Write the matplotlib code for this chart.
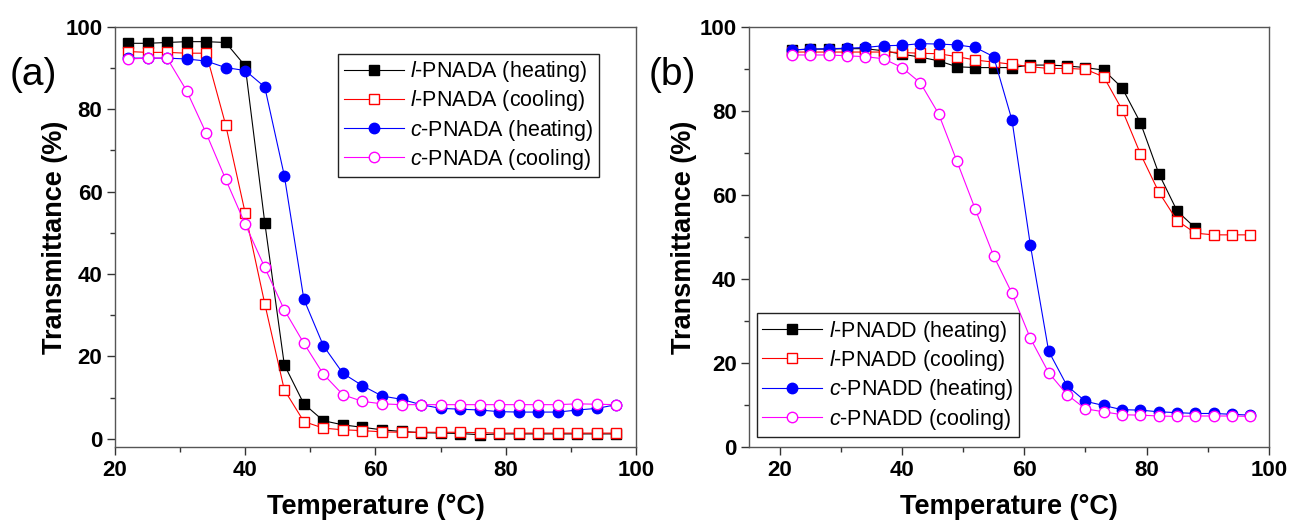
import matplotlib
matplotlib.use('Agg')
import matplotlib.pyplot as plt
from matplotlib.ticker import MultipleLocator

plt.rcParams['font.family'] = ['Liberation Sans', 'DejaVu Sans']
plt.rcParams['mathtext.fontset'] = 'custom'
plt.rcParams['mathtext.it'] = 'Liberation Sans:italic'
plt.rcParams['mathtext.rm'] = 'Liberation Sans'

# panel (a): PNADA
temp_a = [22, 25, 28, 31, 34, 37, 40, 43, 46, 49, 52, 55, 58, 61, 64, 67, 70, 73, 76, 79, 82, 85, 88, 91, 94, 97]
l_heat_a = [96.0, 96.0, 96.2, 96.4, 96.4, 96.2, 90.5, 52.5, 18.0, 8.5, 4.4, 3.4, 2.8, 2.2, 1.8, 1.5, 1.4, 1.3, 1.0, 1.2, 1.2, 1.2, 1.2, 1.2, 1.2, 1.2]
l_cool_a = [94.0, 93.8, 93.8, 93.6, 93.6, 76.2, 54.8, 32.8, 11.9, 4.2, 2.6, 2.2, 2.0, 1.7, 1.6, 1.6, 1.6, 1.6, 1.5, 1.4, 1.4, 1.4, 1.4, 1.4, 1.4, 1.4]
c_heat_a = [92.4, 92.4, 92.4, 92.2, 91.7, 90.1, 89.4, 85.4, 63.9, 33.9, 22.6, 15.9, 12.9, 10.4, 9.6, 8.3, 7.4, 7.2, 7.0, 6.6, 6.5, 6.5, 6.5, 7.0, 7.4, 8.3]
c_cool_a = [92.2, 92.4, 92.4, 84.5, 74.2, 63.0, 52.1, 41.6, 31.3, 23.2, 15.7, 10.7, 9.1, 8.5, 8.3, 8.3, 8.3, 8.3, 8.3, 8.3, 8.3, 8.3, 8.3, 8.5, 8.4, 8.3]

# panel (b): PNADD
temp_b = [22, 25, 28, 31, 34, 37, 40, 43, 46, 49, 52, 55, 58, 61, 64, 67, 70, 73, 76, 79, 82, 85, 88, 91, 94, 97]
temp_b_lheat = [22, 25, 28, 31, 34, 37, 40, 43, 46, 49, 52, 55, 58, 61, 64, 67, 70, 73, 76, 79, 82, 85, 88]
l_heat_b = [94.5, 94.7, 94.7, 94.8, 94.8, 94.3, 93.5, 92.8, 91.9, 90.5, 90.3, 90.3, 90.3, 90.9, 90.9, 90.7, 90.3, 89.7, 85.5, 77.2, 65.1, 56.2, 52.1]
l_cool_b = [94.0, 94.0, 94.0, 94.0, 94.0, 94.0, 93.9, 93.7, 93.6, 92.9, 92.1, 91.6, 91.1, 90.5, 90.1, 90.1, 89.9, 88.1, 80.3, 69.8, 60.7, 53.9, 50.9, 50.5, 50.5, 50.5]
c_heat_b = [94.5, 94.7, 94.8, 94.9, 95.1, 95.5, 95.6, 96.0, 95.9, 95.7, 95.1, 92.9, 77.8, 48.1, 22.8, 14.6, 10.9, 9.9, 8.9, 8.8, 8.4, 8.2, 8.0, 8.0, 7.8, 7.6]
c_cool_b = [93.3, 93.3, 93.3, 93.1, 92.9, 92.4, 90.3, 86.7, 79.3, 68.0, 56.6, 45.5, 36.6, 25.9, 17.7, 12.5, 9.1, 8.4, 7.7, 7.6, 7.4, 7.3, 7.4, 7.4, 7.4, 7.3]

xticks = [20, 40, 60, 80, 100]
yticks = [0, 20, 40, 60, 80, 100]

fig = plt.figure(figsize=(12.93, 5.26), dpi=100)
ax1 = fig.add_axes([0.0889, 0.150, 0.403, 0.799])
ax2 = fig.add_axes([0.5793, 0.150, 0.402, 0.799])

ms = 7.5
lw = 0.8

def style(ax, ypad):
    for s in ax.spines.values():
        s.set_color('#555555')
        s.set_linewidth(1.0)
    ax.set_xticks(xticks)
    ax.set_yticks(yticks)
    ax.xaxis.set_minor_locator(MultipleLocator(10))
    ax.yaxis.set_minor_locator(MultipleLocator(10))
    ax.tick_params(which='both', direction='out', top=False, right=False,
                   color='#333333', width=1.0)
    ax.tick_params(which='major', length=6, labelsize=16, pad=3)
    ax.tick_params(which='minor', length=3.5)
    for lab in ax.get_xticklabels() + ax.get_yticklabels():
        lab.set_fontweight('bold')
    ax.set_xlabel('Temperature (\u00b0C)', fontsize=19.5, fontweight='bold', labelpad=10)
    ax.set_ylabel('Transmittance (%)', fontsize=19.5, fontweight='bold', labelpad=ypad)

leg_kw = dict(fontsize=15.5, handlelength=2.8, handletextpad=0.3, labelspacing=0.2,
              borderpad=0.25, borderaxespad=0, fancybox=False, framealpha=1,
              edgecolor='#222222')

# (a)
ax1.plot(temp_a, l_heat_a, '-s', color='black', mfc='black', ms=ms, lw=lw,
         label='$\\it{l}$-PNADA (heating)')
ax1.plot(temp_a, l_cool_a, '-s', color='red', mfc='white', ms=ms, lw=lw,
         label='$\\it{l}$-PNADA (cooling)')
ax1.plot(temp_a, c_heat_a, '-o', color='blue', mfc='blue', ms=ms, lw=lw,
         label='$\\it{c}$-PNADA (heating)')
ax1.plot(temp_a, c_cool_a, '-o', color='magenta', mfc='white', ms=ms, lw=lw,
         label='$\\it{c}$-PNADA (cooling)')
ax1.set_xlim(20, 100)
ax1.set_ylim(-2, 100)
style(ax1, -2)
leg1 = ax1.legend(loc='upper right', bbox_to_anchor=(0.929, 0.936), **leg_kw)
leg1.get_frame().set_linewidth(1.0)

# (b)
ax2.plot(temp_b_lheat, l_heat_b, '-s', color='black', mfc='black', ms=ms, lw=lw,
         label='$\\it{l}$-PNADD (heating)')
ax2.plot(temp_b, l_cool_b, '-s', color='red', mfc='white', ms=ms, lw=lw,
         label='$\\it{l}$-PNADD (cooling)')
ax2.plot(temp_b, c_heat_b, '-o', color='blue', mfc='blue', ms=ms, lw=lw,
         label='$\\it{c}$-PNADD (heating)')
ax2.plot(temp_b, c_cool_b, '-o', color='magenta', mfc='white', ms=ms, lw=lw,
         label='$\\it{c}$-PNADD (cooling)')
ax2.set_xlim(15, 100)
ax2.set_ylim(0, 100)
style(ax2, 1.5)
leg2 = ax2.legend(loc='lower left', bbox_to_anchor=(0.015, 0.024), **leg_kw)
leg2.get_frame().set_linewidth(1.0)

fig.text(0.026, 0.857, '(a)', fontsize=28, ha='center', va='center')
fig.text(0.520, 0.857, '(b)', fontsize=28, ha='center', va='center')

fig.savefig('out.png', dpi=100)
